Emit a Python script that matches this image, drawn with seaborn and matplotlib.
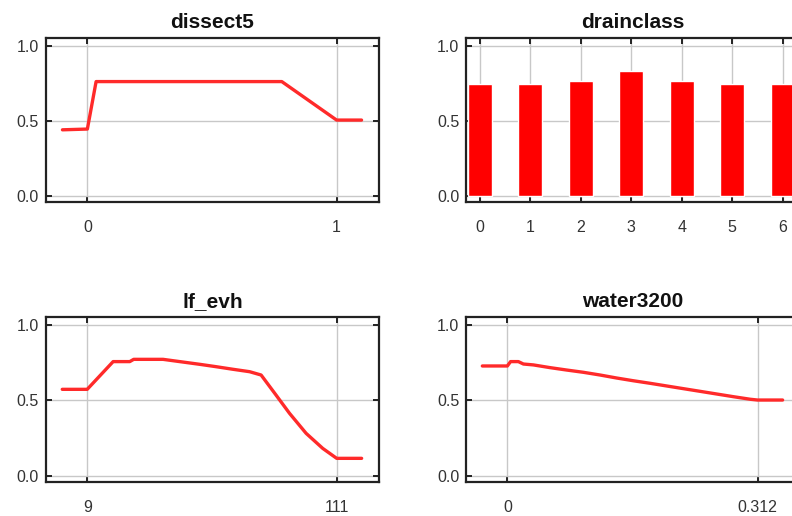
import numpy as np
import pandas as pd
import matplotlib
matplotlib.use("Agg")
import matplotlib.pyplot as plt
import seaborn as sns

# dissect5 response
dissect_x = [-0.1, 0.0, 0.035, 0.78, 1.0, 1.1]
dissect_y = [0.44, 0.445, 0.762, 0.762, 0.505, 0.505]

# drainclass response (categorical)
drain_classes = [0, 1, 2, 3, 4, 5, 6]
drain_vals = [0.749, 0.749, 0.765, 0.831, 0.765, 0.749, 0.749]

# lf_evh response
evh_x = [-1.2, 9.0, 19.6, 26.4, 28.0, 40.0, 46.8, 55.0, 61.8, 68.6, 75.4, 80.1,
         86.2, 91.7, 98.5, 105.3, 111.0, 121.2]
evh_y = [0.573, 0.573, 0.757, 0.757, 0.772, 0.772, 0.757, 0.739, 0.723, 0.706,
         0.690, 0.668, 0.535, 0.414, 0.281, 0.181, 0.115, 0.115]

# water3200 response
water_x = [-0.0312, 0.0, 0.004, 0.0137, 0.02, 0.0325, 0.0532, 0.074, 0.0948,
           0.1156, 0.1364, 0.157, 0.178, 0.199, 0.220, 0.240, 0.261, 0.282,
           0.303, 0.312, 0.3432]
water_y = [0.728, 0.728, 0.757, 0.757, 0.741, 0.735, 0.717, 0.701, 0.686,
           0.668, 0.648, 0.630, 0.613, 0.595, 0.577, 0.560, 0.542, 0.524,
           0.507, 0.502, 0.502]

sns.set_theme(style="white")
plt.rcParams['font.family'] = ['Liberation Sans', 'DejaVu Sans']

LINE_COLOR = '#ff2a2a'
W = 792
H = 516
fig = plt.figure(figsize=(W / 100, H / 100), dpi=100)


def make_axes(left_px, top_px, bottom_px, width_px=333):
    return fig.add_axes([left_px / W, 1 - bottom_px / H,
                         width_px / W, (bottom_px - top_px) / H])


def style_axes(ax, titulo, xticks, xlabels, xlim):
    ax.set_xlim(*xlim)
    ax.set_ylim(-0.04, 1.055)
    ax.set_xticks(xticks)
    ax.set_xticklabels(xlabels)
    ax.set_yticks([0.0, 0.5, 1.0])
    ax.set_yticklabels(['0.0', '0.5', '1.0'])
    ax.grid(True, color='#c8c8c8', linewidth=1.0)
    ax.set_axisbelow(True)
    for sp in ax.spines.values():
        sp.set_visible(True)
        sp.set_color('#222222')
        sp.set_linewidth(1.6)
    ax.tick_params(axis='both', direction='in', length=4.5, width=1.4,
                   color='#222222', labelcolor='#333333', labelsize=11.5,
                   top=True, right=True, bottom=True, left=True)
    ax.tick_params(axis='x', pad=13)
    ax.tick_params(axis='y', pad=5)
    ax.set_xlabel('')
    ax.set_ylabel('')
    ax.set_title(titulo, fontsize=15, fontweight='bold', pad=7, color='#111111')


# dissect5
ax1 = make_axes(46, 37.7, 201.7)
sns.lineplot(x=dissect_x, y=dissect_y, ax=ax1, color=LINE_COLOR, linewidth=2.4)
style_axes(ax1, 'dissect5', [0, 1], ['0', '1'], (-0.166, 1.17))

# drainclass
ax2 = make_axes(466.3, 37.7, 201.7)
df_drain = pd.DataFrame({'clase': drain_classes, 'valor': drain_vals})
sns.barplot(data=df_drain, x='clase', y='valor', ax=ax2, color='#ff0000',
            saturation=1, width=0.48, native_scale=True)
style_axes(ax2, 'drainclass', drain_classes, [str(c) for c in drain_classes],
           (-0.27, 6.33))

# lf_evh
ax3 = make_axes(46, 316.7, 481.7)
sns.lineplot(x=evh_x, y=evh_y, ax=ax3, color=LINE_COLOR, linewidth=2.4)
style_axes(ax3, 'lf_evh', [9, 111], ['9', '111'], (-7.85, 128.3))

# water3200
ax4 = make_axes(466.3, 316.7, 481.7)
sns.lineplot(x=water_x, y=water_y, ax=ax4, color=LINE_COLOR, linewidth=2.4)
style_axes(ax4, 'water3200', [0, 0.312], ['0', '0.312'], (-0.0512, 0.364))

fig.savefig('out.png', dpi=100)
